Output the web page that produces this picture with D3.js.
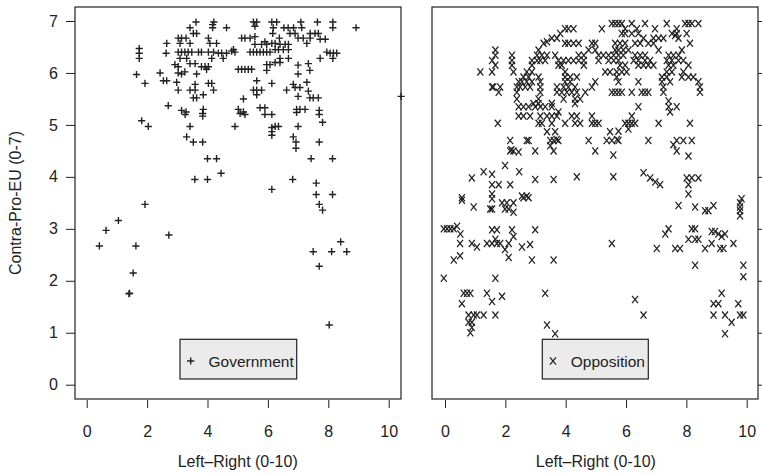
<!DOCTYPE html>
<html>
<head>
<meta charset="utf-8">
<script src="https://cdn.jsdelivr.net/npm/d3@7"></script>
<style>
  body { margin: 0; background: #fff; }
  svg text { font-family: "Liberation Sans", Arial, Helvetica, sans-serif; fill: #222; }
</style>
</head>
<body>
<svg id="chart" width="762" height="474"></svg>
<script>
// tick values
var xTicks = [0, 2, 4, 6, 8, 10];
var yTicks = [0, 1, 2, 3, 4, 5, 6, 7];

// Government parties: [left-right, contra-pro-EU]
var govPoints = [
  [3.62,6.98],[4.21,6.98],[5.52,6.98],[5.63,6.98],[6.13,6.98],[6.29,6.98],[7.09,6.98],[7.64,6.98],[8.15,6.98],
  [3.42,6.87],[4.17,6.87],[4.17,6.93],[4.63,6.87],[5.57,6.9],[6.18,6.87],[6.53,6.87],[6.67,6.87],[6.85,6.87],[7.12,6.87],[8.15,6.87],[8.92,6.87],
  [3.53,6.76],[3.64,6.76],[6.16,6.76],[6.73,6.76],[6.9,6.76],[7.4,6.76],[7.56,6.76],[7.67,6.76],
  [3.03,6.67],[3.14,6.67],[3.29,6.67],[4.03,6.67],[5.13,6.67],[5.24,6.67],[5.41,6.67],[5.57,6.7],[5.9,6.6],[6.38,6.67],[7.0,6.67],[7.17,6.67],[7.4,6.67],[7.73,6.65],[7.9,6.65],
  [2.65,6.57],[3.09,6.57],[3.42,6.57],[4.08,6.57],[4.3,6.57],[5.57,6.55],[5.79,6.55],[5.96,6.55],[6.13,6.57],[6.24,6.57],[6.4,6.55],[6.57,6.55],[6.68,6.55],[7.29,6.57],
  [1.74,6.47],[1.74,6.38],[2.63,6.38],[3.03,6.4],[3.14,6.4],[3.25,6.4],[3.36,6.4],[3.48,6.4],[3.7,6.4],[3.8,6.4],[4.03,6.4],[4.2,6.4],[4.36,6.38],[4.47,6.38],[4.63,6.38],[4.8,6.42],[4.86,6.45],[4.91,6.4],
  [5.41,6.4],[5.52,6.4],[5.63,6.4],[5.74,6.4],[5.85,6.4],[5.96,6.4],[6.07,6.4],[6.24,6.45],[6.35,6.45],[6.51,6.45],[6.68,6.45],[7.95,6.4],[8.06,6.38],[8.17,6.38],[8.28,6.38],
  [1.74,6.28],[3.09,6.28],[3.31,6.28],[4.14,6.28],[4.52,6.28],[6.4,6.28],[6.68,6.28],[7.73,6.28],[8.15,6.28],
  [2.92,6.16],[3.03,6.12],[3.42,6.18],[3.59,6.18],[3.8,6.12],[3.92,6.12],[4.03,6.12],[5.02,6.07],[5.13,6.07],[5.24,6.07],[5.35,6.07],[5.46,6.07],[5.96,6.16],[6.07,6.16],[6.24,6.2],[6.4,6.2],[7.0,6.15],[7.34,6.18],
  [1.65,5.97],[2.43,6.0],[3.03,6.0],[3.14,5.98],[3.25,6.02],[3.64,5.98],[3.97,6.07],[5.96,6.05],[7.0,5.98],[7.39,6.05],
  [1.93,5.8],[2.54,5.85],[2.65,5.85],[2.98,5.82],[3.59,5.78],[4.03,5.8],[4.14,5.8],[5.63,5.85],[6.13,5.8],[6.84,5.78],[7.29,5.82],
  [3.03,5.67],[3.42,5.67],[3.59,5.67],[4.2,5.67],[5.52,5.67],[5.63,5.67],[5.79,5.67],[6.62,5.67],[6.9,5.72],[7.06,5.72],[7.34,5.65],
  [3.53,5.52],[3.64,5.52],[3.86,5.58],[5.19,5.5],[5.63,5.58],[7.0,5.55],[7.39,5.52],[7.5,5.52],[7.67,5.52],[10.41,5.55],
  [2.7,5.37],[3.14,5.28],[3.29,5.25],[3.86,5.3],[5.02,5.3],[5.19,5.25],[5.74,5.33],[5.9,5.33],[6.95,5.3],[7.06,5.3],[7.23,5.3],[7.7,5.28],
  [3.26,5.2],[3.84,5.22],[3.84,5.17],[5.08,5.22],[5.24,5.2],[5.9,5.2],[6.13,5.2],[6.95,5.24],[7.7,5.2],
  [1.82,5.08],[2.04,4.97],[3.42,4.97],[4.91,4.97],[6.13,4.95],[6.24,4.97],[6.35,4.97],[7.0,4.97],[7.81,5.05],
  [3.31,4.77],[6.13,4.8],[6.13,4.87],[6.84,4.77],
  [3.53,4.67],[3.84,4.67],[6.93,4.67],[6.93,4.55],[7.7,4.67],
  [4.0,4.35],[4.3,4.35],[7.43,4.35],[8.14,4.35],
  [4.45,4.07],[3.58,3.95],[4.0,3.95],[6.82,3.95],[7.6,3.88],[6.13,3.76],[7.6,3.66],[8.14,3.66],[1.93,3.47],[7.7,3.47],[7.81,3.36],
  [1.05,3.16],[0.64,2.97],[2.72,2.88],[0.42,2.67],[1.63,2.67],[1.54,2.15],[1.4,1.75],[1.42,1.76],
  [7.5,2.56],[7.7,2.28],[8.11,2.56],[8.41,2.75],[8.61,2.56],[8.03,1.15]
];

// Opposition parties: [left-right, contra-pro-EU]
var oppPoints = [
  [5.53,6.95],[5.64,6.95],[5.75,6.95],[5.86,6.95],[6.19,6.95],[6.63,6.95],[7.35,6.95],[7.96,6.95],[8.07,6.95],[8.18,6.95],[8.4,6.95],
  [3.98,6.85],[4.09,6.85],[4.26,6.85],[5.2,6.85],[5.97,6.85],[6.36,6.85],[6.96,6.85],[7.68,6.85],
  [3.82,6.76],[5.86,6.76],[5.97,6.76],[6.19,6.76],[6.41,6.76],[7.52,6.76],[7.68,6.76],[8.01,6.76],
  [3.38,6.6],[3.54,6.67],[3.71,6.67],[6.58,6.67],[6.91,6.67],[7.08,6.67],[7.24,6.67],[7.74,6.67],[7.63,6.72],
  [3.27,6.57],[3.98,6.57],[4.09,6.57],[4.26,6.57],[4.43,6.57],[4.87,6.57],[4.98,6.57],[5.64,6.57],[5.8,6.57],[5.97,6.57],[6.3,6.57],[6.47,6.57],[6.74,6.57],[6.91,6.57],[8.12,6.57],
  [1.67,6.44],[3.1,6.44],[4.76,6.44],[4.98,6.44],[5.64,6.44],[5.75,6.44],[5.91,6.44],[6.08,6.44],[7.08,6.44],[7.85,6.44],
  [1.67,6.34],[2.22,6.34],[3.05,6.34],[3.21,6.34],[3.38,6.34],[3.65,6.34],[4.43,6.34],[4.6,6.34],[5.09,6.34],[5.25,6.34],[5.42,6.34],[5.59,6.34],[5.75,6.34],[5.91,6.34],[6.3,6.34],[6.47,6.34],[6.63,6.34],[7.41,6.34],[7.57,6.34],[7.74,6.34],
  [1.56,6.24],[2.22,6.24],[2.88,6.24],[3.05,6.24],[3.16,6.24],[3.32,6.24],[3.76,6.24],[3.93,6.24],[4.09,6.24],[4.26,6.24],[4.43,6.24],[4.6,6.24],[5.09,6.24],[5.42,6.24],[5.59,6.24],[5.75,6.24],[6.25,6.24],[6.41,6.24],[6.63,6.24],[6.8,6.24],[7.35,6.24],[7.52,6.24],[7.74,6.24],[7.9,6.24],
  [1.67,6.15],[2.22,6.15],[2.88,6.15],[3.76,6.15],[3.87,6.15],[4.6,6.15],[5.8,6.15],[5.97,6.15],[6.41,6.15],[6.58,6.15],[6.74,6.15],[6.91,6.15],[7.41,6.15],[7.57,6.15],[8.07,6.15],
  [1.17,6.02],[1.56,6.02],[2.27,6.02],[2.71,6.02],[2.88,6.02],[3.98,6.02],[5.31,6.02],[5.47,6.02],[5.69,6.02],[5.86,6.02],[6.02,6.02],[7.35,6.02],[7.52,6.02],[7.9,6.02],
  [2.6,5.92],[2.77,5.92],[3.1,5.92],[3.98,5.92],[4.15,5.92],[4.37,5.92],[5.69,5.92],[7.19,5.92],[7.35,5.92],[7.85,5.92],[8.07,5.92],[8.23,5.92],
  [2.44,5.83],[2.55,5.83],[2.71,5.83],[2.88,5.83],[3.16,5.83],[3.98,5.83],[4.15,5.83],[4.98,5.83],[5.75,5.83],[6.41,5.83],[7.19,5.83],[7.46,5.83],[8.4,5.83],
  [1.56,5.73],[1.6,5.73],[1.83,5.73],[2.38,5.73],[2.49,5.73],[2.66,5.73],[2.82,5.73],[3.16,5.73],[3.71,5.73],[3.93,5.73],[4.09,5.73],[4.31,5.73],[4.87,5.73],[7.24,5.73],[8.45,5.73],
  [1.78,5.63],[2.38,5.63],[3.16,5.63],[3.71,5.63],[3.87,5.63],[4.04,5.63],[4.2,5.63],[4.37,5.63],[4.65,5.63],[5.53,5.63],[5.64,5.63],[5.75,5.63],[5.86,5.63],[6.19,5.63],[6.52,5.63],[6.63,5.63],[6.74,5.63],[7.24,5.63],[8.45,5.63],
  [2.38,5.5],[3.1,5.5],[3.93,5.5],[4.31,5.5],[4.48,5.5],
  [2.93,5.41],[3.1,5.41],[3.54,5.41],[4.31,5.41],[7.41,5.46],
  [2.44,5.35],[2.6,5.35],[2.77,5.35],[2.99,5.35],[3.16,5.35],[3.32,5.35],[3.54,5.35],[6.41,5.35],[7.41,5.35],[7.68,5.35],
  [3.76,5.25],[7.46,5.25],
  [2.44,5.17],[2.6,5.17],[2.82,5.17],[3.16,5.17],[3.38,5.17],[3.54,5.17],[3.71,5.17],[4.2,5.17],[4.37,5.17],[4.87,5.17],[6.19,5.17],
  [1.75,5.03],[3.1,5.03],[3.21,5.03],[3.54,5.03],[3.98,5.03],[4.31,5.03],[4.48,5.03],[4.87,5.03],[4.98,5.03],[5.09,5.03],[5.97,5.03],[6.08,5.03],[6.19,5.03],[6.3,5.03],[7.08,5.03],[8.12,5.03],
  [3.38,4.87],[3.65,4.87],[5.47,4.87],[5.75,4.88],[6.08,4.92],
  [2.16,4.7],[2.71,4.7],[2.77,4.7],[3.49,4.7],[3.6,4.7],[3.76,4.7],[3.7,4.72],[4.76,4.7],[5.36,4.7],[5.53,4.7],[5.75,4.7],[5.7,4.72],[6.74,4.7],[7.68,4.7],[7.9,4.7],[8.18,4.7],[7.57,4.62],
  [2.16,4.5],[2.27,4.5],[2.44,4.48],[2.2,4.52],[2.99,4.5],[3.49,4.6],[3.6,4.5],[4.98,4.5],[5.58,4.42],[7.68,4.5],[8.07,4.4],
  [1.99,4.22],
  [0.89,3.98],[1.28,4.1],[1.56,4.05],[2.46,4.1],[2.99,3.95],[3.6,3.95],[4.37,4.0],[5.58,4.0],[6.58,4.08],[6.8,3.98],[6.97,3.9],[7.13,3.85],[8.01,3.98],[8.18,3.98],[8.4,3.98],
  [1.56,3.85],[1.78,3.85],[2.16,3.85],[8.07,3.85],
  [1.56,3.67],[2.55,3.63],[2.71,3.63],[0.56,3.6],[9.83,3.58],[8.07,3.67],
  [0.56,3.55],[1.56,3.58],[1.89,3.5],[2.05,3.5],[2.27,3.5],[2.6,3.6],[2.77,3.6],[9.78,3.5],[9.78,3.42],[9.78,3.35],
  [0.95,3.42],[1.5,3.38],[1.56,3.38],[1.99,3.38],[2.11,3.38],[2.27,3.32],[7.74,3.45],[8.29,3.42],[8.62,3.35],[8.73,3.35],[8.9,3.45],[9.78,3.25],
  [-0.04,3.0],[0.07,3.0],[0.18,3.0],[0.29,3.0],[0.4,3.05],[0.51,2.9],[1.56,2.98],[1.72,2.98],[2.22,2.98],[2.27,2.85],[2.99,2.98],[7.3,2.9],[7.41,3.0],[8.18,3.0],[8.29,3.0],[8.84,2.95],[8.95,2.95],[9.06,2.9],[9.17,2.85],[9.28,2.9],
  [0.5,2.72],[0.89,2.72],[1.06,2.65],[1.39,2.72],[1.56,2.72],[1.72,2.72],[1.83,2.72],[2.11,2.72],[1.67,2.8],[1.99,2.6],[2.55,2.65],[2.82,2.7],[5.53,2.72],[7.02,2.62],[7.63,2.62],[7.79,2.62],[8.07,2.8],[8.29,2.8],[8.4,2.8],[8.62,2.62],[8.84,2.72],[9.12,2.62],[9.23,2.62],[9.56,2.72],
  [0.29,2.4],[0.5,2.48],[2.11,2.45],[2.88,2.4],[3.6,2.4],[8.29,2.3],[9.89,2.3],
  [-0.04,2.05],[1.67,2.05],[9.89,2.08],
  [0.62,1.76],[0.73,1.76],[0.84,1.76],[1.39,1.76],[1.89,1.7],[3.32,1.76],[6.3,1.64],[9.17,1.76],
  [0.56,1.56],[8.9,1.56],[9.06,1.56],[9.72,1.56],[1.56,1.6],
  [0.78,1.34],[0.95,1.34],[1.06,1.34],[1.28,1.34],[1.67,1.34],[6.58,1.34],[8.9,1.34],[9.28,1.34],[9.78,1.34],[9.89,1.34],
  [0.78,1.2],[0.89,1.1],[0.84,1.0],[0.89,1.2],[3.38,1.15],[3.65,0.98],[9.5,1.2],[9.28,0.98]
];

var xTitle = "Left\u2013Right (0-10)";
var yTitle = "Contra-Pro-EU (0-7)";

var svg = d3.select("#chart");
var ink = "#222";

var y = d3.scaleLinear().domain([0, 7]).range([384.7, 21]);

// a panel: box, bottom axis, points and legend
function drawPanel(opts) {
  var x = d3.scaleLinear().domain([0, 10]).range(opts.xRange);
  var g = svg.append("g");

  g.append("rect")
    .attr("x", opts.box[0]).attr("y", 7)
    .attr("width", opts.box[1] - opts.box[0]).attr("height", 392)
    .attr("fill", "none").attr("stroke", ink).attr("stroke-width", 1.2);

  var xAxis = g.append("g")
    .attr("transform", "translate(0,400)")
    .call(d3.axisBottom(x).tickValues(xTicks).tickSize(8).tickPadding(18).tickFormat(d3.format("d")));
  xAxis.select(".domain").remove();
  xAxis.selectAll("line").attr("stroke", ink);
  xAxis.selectAll("text").attr("font-size", 16).attr("fill", ink);

  var yAxis;
  if (opts.yLeft) {
    yAxis = g.append("g")
      .attr("transform", "translate(" + opts.box[0] + ",0)")
      .call(d3.axisLeft(y).tickValues(yTicks).tickSize(9).tickPadding(8).tickFormat(d3.format("d")));
    yAxis.selectAll("text").attr("font-size", 16).attr("fill", ink);
  } else {
    yAxis = g.append("g")
      .attr("transform", "translate(" + opts.box[1] + ",0)")
      .call(d3.axisRight(y).tickValues(yTicks).tickSize(9).tickFormat(""));
  }
  yAxis.select(".domain").remove();
  yAxis.selectAll("line").attr("stroke", ink);

  g.append("text")
    .attr("x", (opts.xRange[0] + opts.xRange[1]) / 2)
    .attr("y", 467)
    .attr("text-anchor", "middle")
    .attr("font-size", 16)
    .text(xTitle);

  g.selectAll(".pt")
    .data(opts.points)
    .enter().append("path")
    .attr("class", "pt")
    .attr("transform", d => "translate(" + x(d[0]) + "," + y(d[1]) + ")")
    .attr("d", opts.symbol)
    .attr("fill", "none")
    .attr("stroke", ink)
    .attr("stroke-width", opts.weight);

  // legend
  var lg = g.append("g");
  lg.append("rect")
    .attr("x", opts.legend[0]).attr("y", 339.3)
    .attr("width", opts.legend[1]).attr("height", 39.7)
    .attr("fill", "#ebebeb").attr("stroke", ink).attr("stroke-width", 1.2);
  lg.append("path")
    .attr("transform", "translate(" + (opts.legend[0] + 10.7) + ",361)")
    .attr("d", opts.symbol)
    .attr("fill", "none").attr("stroke", ink).attr("stroke-width", opts.weight);
  lg.append("text")
    .attr("x", opts.legend[0] + 28.5).attr("y", 366.5)
    .attr("font-size", 15.5)
    .text(opts.label);
}

var plus = "M-3.6,0H3.6M0,-3.6V3.6";
var cross = "M-3,-3.6L3,3.6M-3,3.6L3,-3.6";

drawPanel({ box: [75, 401], xRange: [86.7, 388.7], points: govPoints, symbol: plus, weight: 1.4,
            yLeft: true, legend: [180, 116.7], label: "Government" });
drawPanel({ box: [432, 758], xRange: [445, 746.7], points: oppPoints, symbol: cross, weight: 1.25,
            yLeft: false, legend: [542.3, 106], label: "Opposition" });

svg.append("text")
  .attr("transform", "translate(21,203) rotate(-90)")
  .attr("text-anchor", "middle")
  .attr("font-size", 16)
  .text(yTitle);
</script>
</body>
</html>
